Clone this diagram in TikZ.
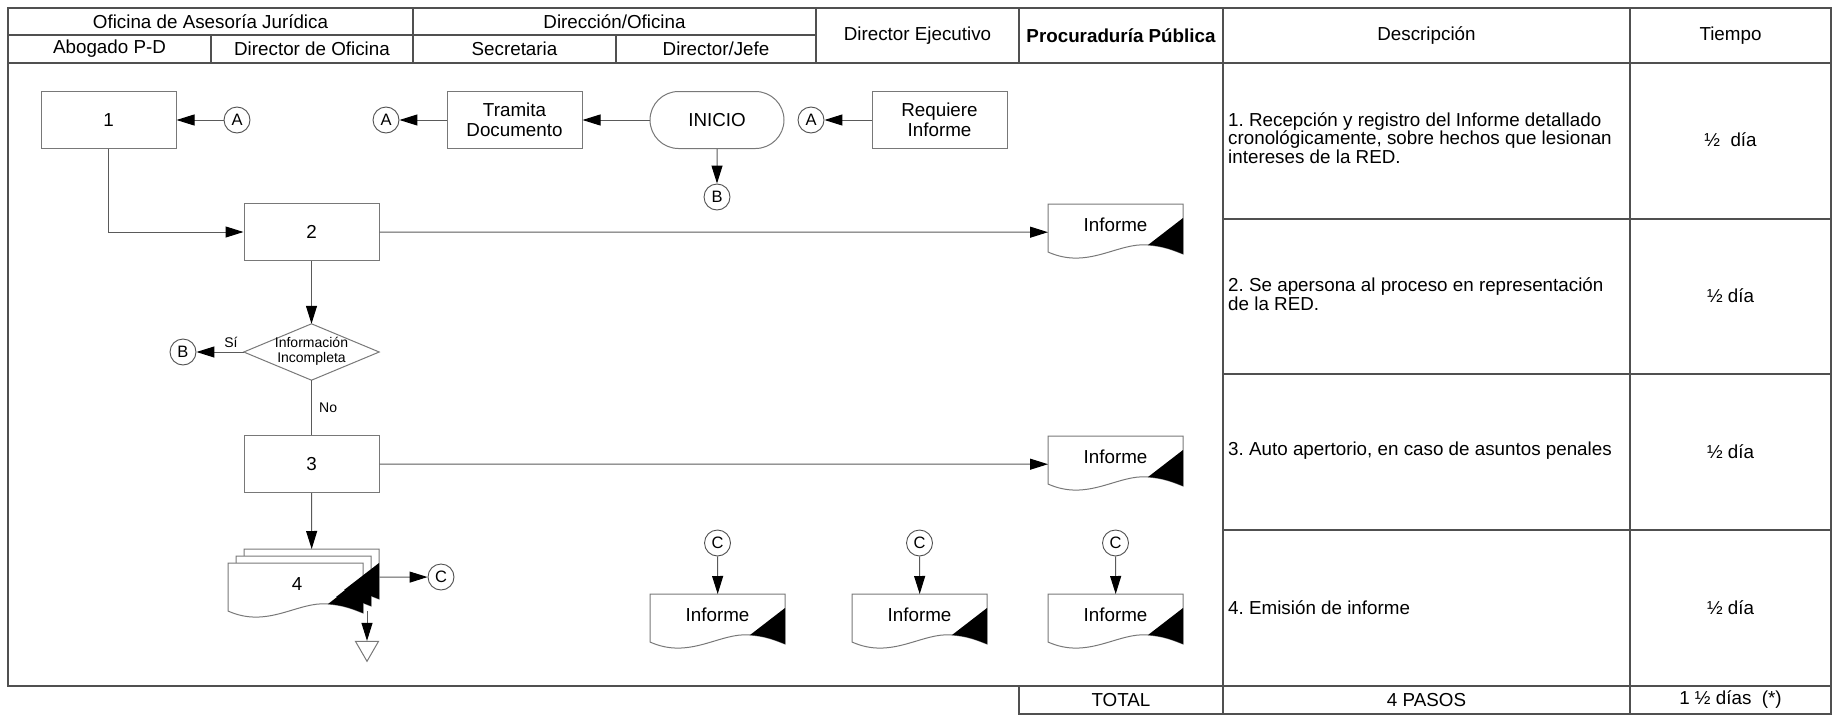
\documentclass[tikz,border=0pt]{standalone}
\usepackage{fontspec}
\setmainfont{Liberation Sans}
\usetikzlibrary{arrows.meta,calc,shapes.geometric,shapes.misc}
\frenchspacing
\definecolor{tline}{RGB}{80,80,80}
\definecolor{bline}{RGB}{120,120,120}
\definecolor{aline}{RGB}{90,90,90}
\newcommand\mainfs{\fontsize{18.8}{19.6}\selectfont}
\newcommand\descfs{\fontsize{18.8}{16.6}\selectfont}
\newcommand\connfs{\fontsize{16.5}{18}\selectfont}
\newcommand\smallfs{\fontsize{14}{14.8}\selectfont}
\tikzset{
  tbl/.style={draw=tline, line width=1.1pt},
  txt/.style={inner sep=0pt, font=\mainfs, align=center},
  dtxt/.style={inner sep=0pt, font=\descfs, align=left, anchor=west},
  stxt/.style={inner sep=0pt, font=\smallfs, align=center},
  box/.style={draw=bline, line width=1pt, fill=white, rectangle, minimum width=135pt, minimum height=57pt, inner sep=0pt, align=center, font=\mainfs},
  startbox/.style={draw=bline, line width=1pt, fill=white, rounded rectangle, minimum width=134pt, minimum height=57pt, inner sep=0pt, font=\mainfs},
  conn/.style={draw=tline, line width=0.9pt, circle, minimum size=26pt, inner sep=0pt, font=\connfs, fill=white},
  frame/.style={rectangle, minimum width=135pt, minimum height=56pt, inner sep=0pt, draw=none, anchor=north west},
  dframe/.style={rectangle, minimum width=135pt, minimum height=56pt, inner sep=0pt, draw=none},
  docline/.style={draw=bline, line width=1pt, fill=white},
  arr/.style={draw=aline, line width=1pt, -{Triangle[length=18pt,width=11pt,color=black]}},
  plain/.style={draw=aline, line width=1pt},
  mergebox/.style={draw=bline, line width=1pt, regular polygon, regular polygon sides=3, shape border rotate=180, minimum size=26.6pt, inner sep=0pt},
}
\newcommand\docoutline[1]{%
  \begin{scope}[shift={(#1.north west)}]
    \draw[docline] (0,0) -- (135,0) -- (135,50) .. controls (125,46) and (115,42) .. (100,41) .. controls (70,38) and (40,66) .. (0,48) -- cycle;
  \end{scope}}
\newcommand\doccorner[1]{%
  \begin{scope}[shift={(#1.north west)}]
    \fill[black] (100,41) -- (135,14) -- (135,50) .. controls (125,46) and (115,42) .. (100,41) -- cycle;
  \end{scope}}
\begin{document}
\begin{tikzpicture}[x=1pt,y=-1pt]
\useasboundingbox (0,0) rectangle (1833,715);
% ---------- table ----------
\draw[tbl] (8,8) rectangle (1831,686);
\draw[tbl] (1019,686) -- (1019,714) -- (1831,714) -- (1831,686);
\draw[tbl] (8,35) -- (816,35);
\draw[tbl] (8,63) -- (1831,63);
\draw[tbl] (211,35) -- (211,63);
\draw[tbl] (413,8) -- (413,63);
\draw[tbl] (616,35) -- (616,63);
\draw[tbl] (816,8) -- (816,63);
\draw[tbl] (1019,8) -- (1019,63);
\draw[tbl] (1223,8) -- (1223,714);
\draw[tbl] (1630,8) -- (1630,714);
\draw[tbl] (1223,219) -- (1831,219);
\draw[tbl] (1223,374) -- (1831,374);
\draw[tbl] (1223,530) -- (1831,530);
% header texts
\node[txt] (h1) at (210.5,21.5) {Oficina de Asesoría Jurídica};
\node[txt] (h2) at (614.5,21.5) {Dirección/Oficina};
\node[txt] (h3) at (109.5,49) {Abogado P-D};
\node[txt] (h4) at (312,49) {Director de Oficina};
\node[txt] (h5) at (514.5,49) {Secretaria};
\node[txt] (h6) at (716,49) {Director/Jefe};
\node[txt] (h7) at (917.5,35.5) {Director Ejecutivo};
\node[txt,font=\mainfs\bfseries] (h8) at (1121,35.5) {Procuraduría Pública};
\node[txt] (h9) at (1426.5,35.5) {Descripción};
\node[txt] (h10) at (1730.5,35.5) {Tiempo};
% descriptions
\node[dtxt] (ds1) at (1228,138) {1. Recepción y registro del Informe detallado\\cronológicamente, sobre hechos que lesionan\\intereses de la RED.};
\node[dtxt] (ds2) at (1228,294) {2. Se apersona al proceso en representación\\de la RED.};
\node[dtxt] (ds3) at (1228,451) {3. Auto apertorio, en caso de asuntos penales};
\node[dtxt] (ds4) at (1228,608) {4. Emisión de informe};
\node[txt] (tm1) at (1730.5,140) {½\ \ día};
\node[txt] (tm2) at (1730.5,296) {½ día};
\node[txt] (tm3) at (1730.5,452) {½ día};
\node[txt] (tm4) at (1730.5,608) {½ día};
\node[txt] (tot1) at (1121,700) {TOTAL};
\node[txt] (tot2) at (1426.5,700) {4 PASOS};
\node[txt] (tot3) at (1730.5,700) {1 ½ días\ \ (*)};
% ---------- flow nodes ----------
\node[box] (b1) at (108.5,120) {1};
\node[conn] (a1) at (237,120) {A};
\node[box] (tram) at (514.5,120) {Tramita\\Documento};
\node[conn] (a2) at (386,120) {A};
\node[startbox] (ini) at (717,120) {INICIO};
\node[conn] (bini) at (717,197) {B};
\node[conn] (a3) at (811,120) {A};
\node[box] (req) at (939.5,120) {Requiere\\Informe};
\node[box] (b2) at (311.5,232) {2};
\node[dframe] (dec) at (311.5,352) {};
\draw[docline] (dec.north) -- (dec.east) -- (dec.south) -- (dec.west) -- cycle;
\node[stxt] (dect) at (311.5,351.5) {Información\\Incompleta};
\node[conn] (bsi) at (183,352) {B};
\node[stxt] (si) at (231,342) {Sí};
\node[stxt,anchor=west] (no) at (319,408) {No};
\node[box] (b3) at (311.5,464) {3};
% right documents
\node[frame] (d1) at (1048,204) {};
\docoutline{d1}\doccorner{d1}
\node[txt] (d1t) at ($(d1.north west)+(67.5,21)$) {Informe};
\node[frame] (d2) at (1048,436) {};
\docoutline{d2}\doccorner{d2}
\node[txt] (d2t) at ($(d2.north west)+(67.5,21)$) {Informe};
% multi document 4
\node[frame] (d4a) at (244,549) {};
\node[frame] (d4b) at (236,556) {};
\node[frame] (d4c) at (228,563) {};
\docoutline{d4a}\docoutline{d4b}\docoutline{d4c}
\doccorner{d4a}\doccorner{d4b}\doccorner{d4c}
\node[txt] (d4t) at ($(d4c.north west)+(69,21)$) {4};
\node[conn] (c0) at (441,577) {C};
\coordinate (d4out) at (367,611);
\node[mergebox] (merge) at (367,648) {};
% bottom documents
\node[frame] (e1) at (650,594) {};
\docoutline{e1}\doccorner{e1}
\node[txt] (e1t) at ($(e1.north west)+(67.5,21)$) {Informe};
\node[frame] (e2) at (852,594) {};
\docoutline{e2}\doccorner{e2}
\node[txt] (e2t) at ($(e2.north west)+(67.5,21)$) {Informe};
\node[frame] (e3) at (1048,594) {};
\docoutline{e3}\doccorner{e3}
\node[txt] (e3t) at ($(e3.north west)+(67.5,21)$) {Informe};
\node[conn] (cc1) at (717.5,543) {C};
\node[conn] (cc2) at (919.5,543) {C};
\node[conn] (cc3) at (1115.5,543) {C};
% ---------- connectors ----------
\draw[arr] (a1) -- (b1);
\draw[arr] (tram) -- (a2);
\draw[arr] (ini) -- (tram);
\draw[arr] (ini) -- (bini);
\draw[arr] (req) -- (a3);
\draw[arr] (b1.south) |- (b2.west);
\draw[arr] (b2.east) -- (d1.west);
\draw[arr] (b2) -- (dec.north);
\draw[arr] (dec.west) -- (bsi);
\draw[plain] (dec.south) -- (b3.north);
\draw[arr] (b3.east) -- (d2.west);
\draw[arr] (b3.south) -- (d4a.north);
\draw[arr] (d4a.east) -- (c0);
\draw[arr] (d4out) -- (merge.north);
\draw[arr] (cc1) -- (e1.north);
\draw[arr] (cc2) -- (e2.north);
\draw[arr] (cc3) -- (e3.north);
\end{tikzpicture}
\end{document}
